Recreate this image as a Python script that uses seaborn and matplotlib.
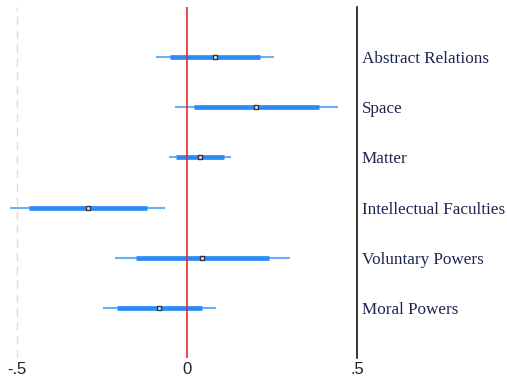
import matplotlib
matplotlib.use("Agg")
import matplotlib.pyplot as plt
import seaborn as sns
import pandas as pd

categories = ["Abstract Relations", "Space", "Matter",
              "Intellectual Faculties", "Voluntary Powers", "Moral Powers"]
estimates = [0.082, 0.203, 0.038, -0.291, 0.044, -0.082]
ci95_low = [-0.091, -0.035, -0.053, -0.521, -0.212, -0.247]
ci95_high = [0.256, 0.444, 0.129, -0.065, 0.303, 0.085]
ci90_low = [-0.050, 0.021, -0.032, -0.465, -0.150, -0.206]
ci90_high = [0.215, 0.388, 0.109, -0.118, 0.241, 0.044]
xtick_vals = [-0.5, 0, 0.5]
xtick_labels = ["-.5", "0", ".5"]

df = pd.DataFrame({
    "category": categories,
    "pos": range(1, len(categories) + 1),
    "est": estimates,
    "lo95": ci95_low, "hi95": ci95_high,
    "lo90": ci90_low, "hi90": ci90_high,
})

sns.set_style("white")
fig = plt.figure(figsize=(5.07, 3.77), dpi=100)
ax = fig.add_axes([0, 19 / 377, 357 / 507, 351 / 377])

# reference grid line at -.5
ax.axvline(-0.5, color="#dddddd", lw=1, ls=(0, (6, 4)), zorder=0)
ax.axvline(0, color="#e8262b", lw=1.2, zorder=3)

ax.hlines(df["pos"], df["lo95"], df["hi95"], color="#6aaefc", lw=1.5, zorder=1)
ax.hlines(df["pos"], df["lo90"], df["hi90"], color="#2b8bf5", lw=3.4, zorder=2)
sns.scatterplot(data=df, x="est", y="pos", marker="s", s=9, color="#e8e8e8",
                edgecolor="#333344", linewidth=1.0, zorder=4, ax=ax, legend=False)

ax.set_xlim(-0.55, 0.5)
ax.set_ylim(7, 0)
ax.set_xticks(xtick_vals)
ax.set_xticklabels(xtick_labels, fontsize=12, family="Liberation Sans", color="#222222")
ax.set_yticks(df["pos"])
ax.set_yticklabels(categories, fontsize=12.3, family="Liberation Serif", color="#1c2452")
ax.yaxis.tick_right()
ax.tick_params(axis="both", length=0)
ax.tick_params(axis="y", pad=3.5)
ax.tick_params(axis="x", pad=3)
ax.set_xlabel("")
ax.set_ylabel("")

for s in ["left", "top", "bottom"]:
    ax.spines[s].set_visible(False)
ax.spines["right"].set_color("#111111")
ax.spines["right"].set_linewidth(1.2)

fig.savefig("out.png", dpi=100)
